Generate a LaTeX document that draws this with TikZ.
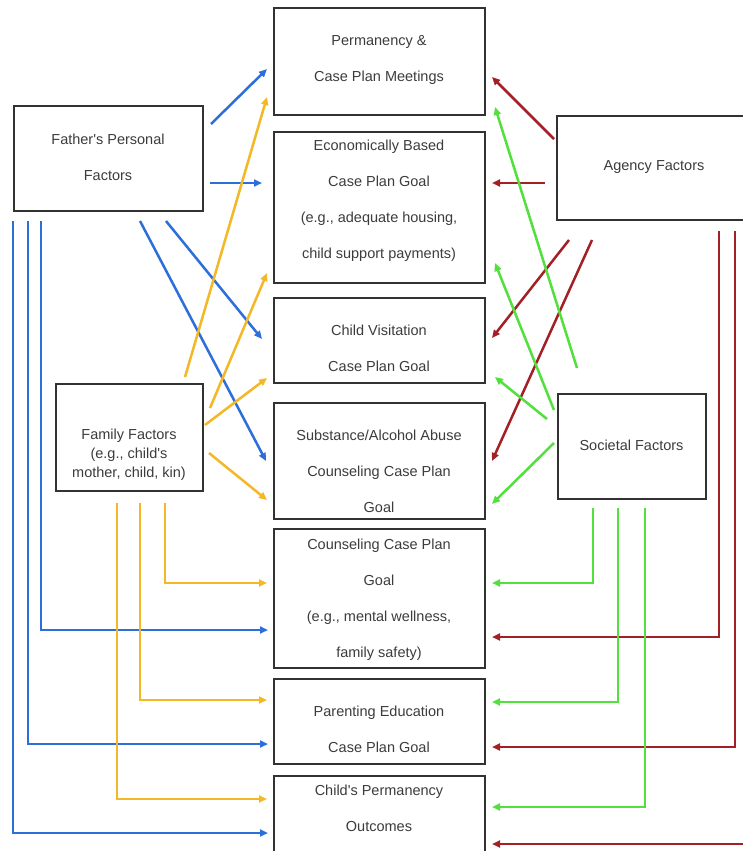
\documentclass[tikz,border=0pt]{standalone}
\usepackage{fontspec}
\setmainfont{Liberation Sans}[Ligatures=TeXOff]
\usetikzlibrary{arrows.meta,calc}
\definecolor{cblue}{RGB}{44,110,218}
\definecolor{corange}{RGB}{244,184,38}
\definecolor{cred}{RGB}{163,32,38}
\definecolor{cgreen}{RGB}{82,224,60}
\definecolor{boxc}{RGB}{50,50,50}
\definecolor{txtc}{RGB}{60,60,60}
\begin{document}
\begin{tikzpicture}[x=1pt,y=-1pt,
  box/.style={draw=boxc, line width=2pt, anchor=north west, inner sep=0pt, fill=none},
  txt/.style={align=center, text=txtc, font=\fontsize{14.5}{36}\selectfont, inner sep=0pt},
  con/.style={line width=2.5pt, -{Triangle[length=8pt,width=7pt]}},
  bl/.style={con, draw=cblue},
  or/.style={con, draw=corange},
  rd/.style={con, draw=cred},
  gr/.style={con, draw=cgreen},
]
\clip (0,0) rectangle (743,851);
\fill[white] (0,0) rectangle (743,851);

% central boxes
\node[box, minimum width=211pt, minimum height=107pt] (b1) at (273,7) {};
\node[box, minimum width=211pt, minimum height=151pt] (b2) at (273,131) {};
\node[box, minimum width=211pt, minimum height=85pt]  (b3) at (273,297) {};
\node[box, minimum width=211pt, minimum height=116pt] (b4) at (273,402) {};
\node[box, minimum width=211pt, minimum height=139pt] (b5) at (273,528) {};
\node[box, minimum width=211pt, minimum height=85pt]  (b6) at (273,678) {};
\node[box, minimum width=211pt, minimum height=95pt]  (b7) at (273,775) {};
% side boxes
\node[box, minimum width=189pt, minimum height=105pt] (father) at (13,105) {};
\node[box, minimum width=147pt, minimum height=107pt] (family) at (55,383) {};
\node[box, minimum width=200pt, minimum height=104pt] (agency) at (556,115) {};
\node[box, minimum width=148pt, minimum height=105pt] (societal) at (557,393) {};

% texts
\node[txt] (t1) at (379,60) {Permanency \&\\Case Plan Meetings};
\node[txt] (t2) at (379,201) {Economically Based\\Case Plan Goal\\(e.g., adequate housing,\\child support payments)};
\node[txt] (t3) at (379,348) {Child Visitation\\Case Plan Goal};
\node[txt] (t4) at (379,471) {Substance/Alcohol Abuse\\Counseling Case Plan\\Goal};
\node[txt] (t5) at (379,600) {Counseling Case Plan\\Goal\\(e.g., mental wellness,\\family safety)};
\node[txt] (t6) at (379,729) {Parenting Education\\Case Plan Goal};
\node[txt] (t7) at (379,808) {Child's Permanency\\Outcomes};
\node[txt] (tf) at (108,157) {Father's Personal\\Factors};
\node[txt, font=\fontsize{14.5}{19}\selectfont] (tfam) at (129,455) {Family Factors\\(e.g., child's\\mother, child, kin)};
\node[txt] (ta) at (654,167) {Agency Factors};
\node[txt] (ts) at (631.5,445) {Societal Factors};

% blue: father
\draw[bl] ($(father.north east)+(7,19)$) -- ($(b1.north west)+(-6,62)$);
\draw[bl] ($(father.north east)+(6,78)$) -- ($(b2.north west)+(-11,52)$);
\draw[bl] ($(father.south west)+(153,9)$) -- ($(b3.north west)+(-11,42)$);
\draw[bl] ($(father.south west)+(127,9)$) -- ($(b4.north west)+(-7,59)$);
\draw[bl] ($(father.south west)+(28,9)$) |- ($(b5.north west)+(-5,102)$);
\draw[bl] ($(father.south west)+(15,9)$) |- ($(b6.north west)+(-5,66)$);
\draw[bl] ($(father.south west)+(0,9)$) |- ($(b7.north west)+(-5,58)$);

% orange: family
\draw[or] ($(family.north west)+(130,-6)$) -- ($(b1.north west)+(-6,90)$);
\draw[or] ($(family.north west)+(155,25)$) -- ($(b2.north west)+(-6,142)$);
\draw[or] ($(family.north west)+(150,42)$) -- ($(b3.north west)+(-6,81)$);
\draw[or] ($(family.north west)+(154,70)$) -- ($(b4.north west)+(-6,98)$);
\draw[or] ($(family.south west)+(110,11)$) |- ($(b5.north west)+(-6,55)$);
\draw[or] ($(family.south west)+(85,11)$) |- ($(b6.north west)+(-6,22)$);
\draw[or] ($(family.south west)+(62,11)$) |- ($(b7.north west)+(-6,24)$);

% red: agency
\draw[rd] ($(agency.north west)+(-2,24)$) -- ($(b1.north east)+(6,70)$);
\draw[rd] ($(agency.north west)+(-11,68)$) -- ($(b2.north east)+(6,52)$);
\draw[rd] ($(agency.south west)+(13,19)$) -- ($(b3.north east)+(6,41)$);
\draw[rd] ($(agency.south west)+(36,19)$) -- ($(b4.north east)+(6,59)$);
\draw[rd] ($(agency.south west)+(163,10)$) |- ($(b5.north east)+(6,109)$);
\draw[rd] ($(agency.south west)+(179,10)$) |- ($(b6.north east)+(6,69)$);
\draw[rd] ($(agency.south west)+(196,10)$) |- ($(b7.north east)+(6,69)$);

% green: societal
\draw[gr] ($(societal.north west)+(20,-25)$) -- ($(b1.north east)+(9,100)$);
\draw[gr] ($(societal.north west)+(-3,17)$) -- ($(b2.north east)+(9,132)$);
\draw[gr] ($(societal.north west)+(-10,26)$) -- ($(b3.north east)+(9,80)$);
\draw[gr] ($(societal.north west)+(-3,50)$) -- ($(b4.north east)+(6,102)$);
\draw[gr] ($(societal.south west)+(36,8)$) |- ($(b5.north east)+(6,55)$);
\draw[gr] ($(societal.south west)+(61,8)$) |- ($(b6.north east)+(6,24)$);
\draw[gr] ($(societal.south west)+(88,8)$) |- ($(b7.north east)+(6,32)$);
\end{tikzpicture}
\end{document}
